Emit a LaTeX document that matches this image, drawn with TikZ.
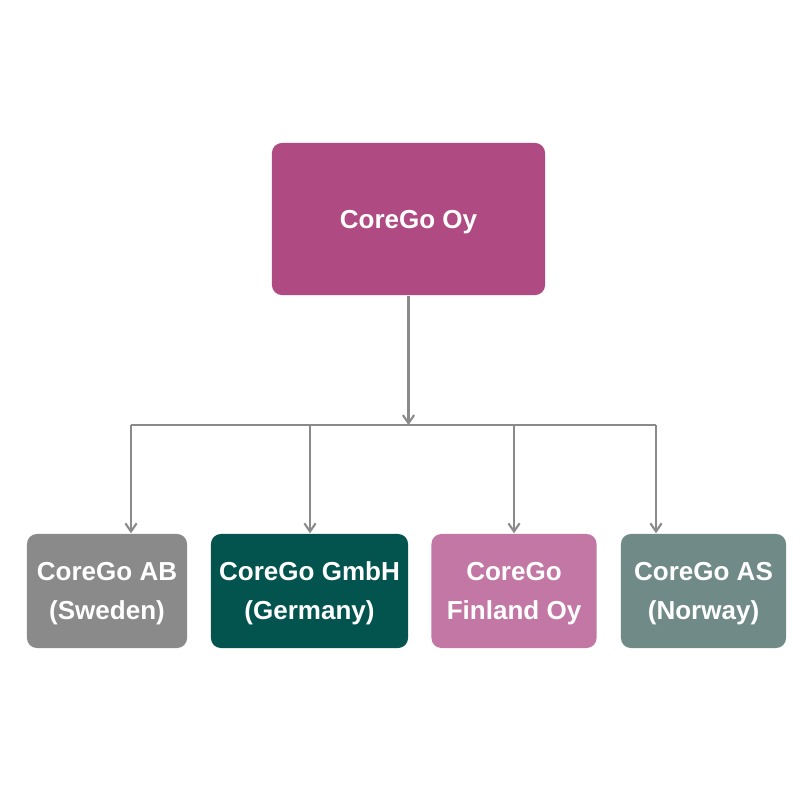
\documentclass[tikz,border=0pt]{standalone}
\usepackage{fontspec}
\setmainfont{Liberation Sans}
\usetikzlibrary{arrows.meta}
\definecolor{parentpink}{HTML}{B04A82}
\definecolor{swegray}{HTML}{8A8A8A}
\definecolor{gerteal}{HTML}{03544F}
\definecolor{finpink}{HTML}{C277A5}
\definecolor{norsage}{HTML}{6F8A87}
\definecolor{linkgray}{HTML}{8A8A8A}
\tikzset{
    firm/.style={rounded corners=0.1cm, inner sep=0pt, align=center, text=white, text depth=0pt,
        font=\fontsize{7.4}{11.1}\selectfont\bfseries},
    link/.style={draw=linkgray, line width=0.6pt, -{Straight Barb[length=2.3pt,width=3.2pt]}}
}
\begin{document}
\begin{tikzpicture}[x=0.01cm,y=-0.01cm]
            \useasboundingbox[fill=white] (0,0) rectangle (800,800);
            % parent company
            \node[firm, fill=parentpink, minimum width=2.73cm, minimum height=1.52cm] (oy) at (408.5,219) {CoreGo Oy};
            % subsidiaries
            \node[firm, fill=swegray, minimum width=1.60cm, minimum height=1.14cm] (sweden) at (107,591) {CoreGo AB\\(Sweden)};
            \node[firm, fill=gerteal, minimum width=1.97cm, minimum height=1.14cm] (germany) at (309.5,591) {CoreGo GmbH\\(Germany)};
            \node[firm, fill=finpink, minimum width=1.65cm, minimum height=1.14cm] (finland) at (514,591) {CoreGo\\Finland Oy};
            \node[firm, fill=norsage, minimum width=1.65cm, minimum height=1.14cm] (norway) at (703.5,591) {CoreGo AS\\(Norway)};
            % bus
            \coordinate (bus) at (408.5,425);
            \coordinate (b1) at (131,425);
            \coordinate (b2) at (310,425);
            \coordinate (b3) at (514,425);
            \coordinate (b4) at (656,425);
            \draw[link] (oy.south) -- (bus);
            \draw[linkgray, line width=0.6pt] (b1) -- (b4);
            \foreach \b/\f in {b1/sweden,b2/germany,b3/finland,b4/norway} {
                \draw[link] (\b) -- (\b |- \f.north);
            }
\end{tikzpicture}
\end{document}
